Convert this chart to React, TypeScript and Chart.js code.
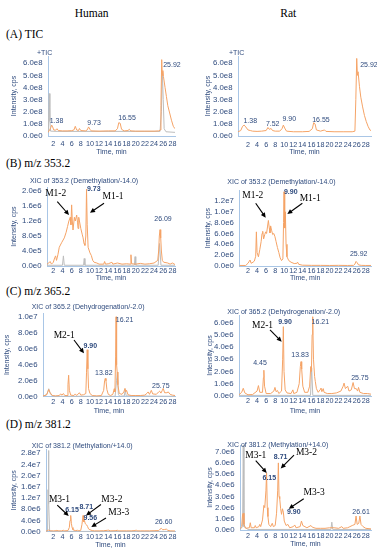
import React, { useEffect, useRef } from 'react';
import { Chart, registerables } from 'chart.js';

Chart.register(...registerables);

type Pt = [number, number];
interface Label { text: string; t: number; v: number; bold?: boolean }
interface Arrow { t1: number; v1: number; t2: number; v2: number }

// ---------------- data ----------------
const xTickValues = [2, 4, 6, 8, 10, 12, 14, 16, 18, 20, 22, 24, 26, 28];

const ticTicks = [0, 1, 2, 3, 4, 5, 6]; // x 1e8
const human353Ticks = [0, 0.4, 0.8, 1.2, 1.6, 2.0]; // x 1e6
const rat353Ticks = [0, 2, 4, 6, 8, 10, 12]; // x 1e6
const human365Ticks = [0, 2, 4, 6, 8, 10]; // x 1e6
const rat365Ticks = [0, 1, 2, 3, 4, 5, 6]; // x 1e6
const human381Ticks = [0, 4, 8, 12, 16, 20, 24, 28]; // x 1e6
const rat381Ticks = [0, 1, 2, 3, 4, 5, 6, 7]; // x 1e6

// (A) TIC, intensity x 1e8
const humanTicOrange: Pt[] = [[0.84,0.3],[1.2,0.5],[1.45,0.7],[1.65,0.9],[1.85,0.75],[2.1,0.5],[2.5,0.48],[2.8,0.6],[3.1,0.45],[4,0.42],[5,0.42],[6,0.44],[6.5,0.5],[6.8,0.8],[7.1,0.5],[7.5,0.45],[7.7,0.62],[8.0,0.45],[9,0.42],[9.4,0.5],[9.7,0.75],[10.0,0.55],[10.3,0.42],[12,0.4],[14,0.42],[15.5,0.42],[16.0,0.6],[16.3,1.1],[16.6,1.05],[16.9,0.55],[17.5,0.42],[18.3,0.45],[18.6,0.55],[18.9,0.42],[20,0.4],[22,0.4],[24,0.4],[25,0.42],[25.35,0.5],[25.5,2.5],[25.67,6.3],[25.8,5.0],[25.92,5.4],[26.05,4.9],[26.4,4.0],[26.7,3.25],[27.0,2.5],[27.4,1.9],[27.8,1.3],[28.2,0.8],[28.57,0.6]];
const humanTicGray: Pt[] = [[0.84,0.3],[0.95,1.5],[1.1,3.5],[1.25,1.2],[1.4,0.4],[3,0.38],[25.3,0.38],[25.6,2.0],[25.8,5.3],[26.0,3.0],[26.2,0.6],[26.6,0.35],[28.57,0.3]];
const ratTicOrange: Pt[] = [[-0.2,0.35],[0.4,0.45],[0.8,0.8],[1.15,0.9],[1.5,0.75],[2.0,0.5],[2.5,0.45],[3,0.4],[4,0.38],[5,0.4],[6,0.45],[6.4,0.7],[6.7,0.55],[7.1,0.62],[7.4,0.45],[8,0.4],[9,0.4],[9.5,0.6],[9.8,0.9],[10.1,0.65],[10.5,0.4],[12,0.35],[14,0.35],[15.5,0.38],[16.2,0.6],[16.5,1.1],[16.8,1.0],[17.1,0.5],[18,0.4],[18.9,0.5],[19.2,0.38],[21,0.35],[23,0.35],[25,0.35],[25.6,0.4],[25.8,3.0],[26.0,6.4],[26.15,5.0],[26.3,5.3],[26.6,4.1],[26.9,3.2],[27.3,2.4],[27.7,1.7],[28.1,1.2],[28.5,0.8],[28.9,0.5],[29.15,0.45]];

// (B) m/z 353.2, intensity x 1e6
const human353Orange: Pt[] = [[0.62,0.05],[1.0,0.08],[1.3,0.12],[1.6,0.05],[2.0,0.1],[2.3,0.22],[2.5,0.27],[2.7,0.15],[3.0,0.3],[3.3,0.5],[3.8,0.62],[4.4,0.75],[4.8,0.9],[5.1,1.05],[5.4,1.2],[5.7,1.3],[5.85,1.1],[6.0,1.63],[6.15,1.2],[6.3,0.96],[6.6,1.3],[6.8,1.2],[7.1,1.36],[7.3,1.15],[7.4,1.0],[7.55,1.3],[7.7,1.2],[8.0,1.0],[8.3,0.85],[8.5,0.75],[8.7,0.6],[8.9,0.55],[9.1,0.8],[9.25,2.05],[9.4,1.1],[9.6,0.5],[10.0,0.35],[10.3,0.28],[10.6,0.15],[10.9,0.1],[11.5,0.08],[12,0.05],[13.0,0.05],[13.2,0.12],[13.4,0.05],[14,0.06],[14.8,0.1],[15,0.05],[16,0.08],[17,0.05],[18,0.06],[18.8,0.05],[18.95,0.3],[19.1,0.06],[20,0.05],[21,0.07],[22,0.05],[23,0.06],[24,0.08],[24.8,0.15],[25.0,0.4],[25.15,0.8],[25.3,0.97],[25.45,0.75],[25.6,0.4],[25.8,0.15],[26.1,0.1],[27,0.08],[27.5,0.05],[28,0.08],[28.57,0.04]];
const human353Gray: Pt[] = [[0.62,0.02],[4.0,0.02],[4.2,0.27],[4.4,0.02],[8.6,0.02],[8.75,0.2],[8.9,0.02],[19.7,0.02],[19.85,0.25],[20.0,0.02],[24.9,0.02],[25.2,0.6],[25.5,0.02],[28.57,0.02]];
const rat353Orange: Pt[] = [[0.08,0.1],[1.5,0.1],[2.0,0.5],[2.3,0.9],[2.45,1.1],[2.7,0.5],[3.1,0.7],[3.4,0.9],[3.7,1.8],[3.85,6.3],[4.0,2.5],[4.3,1.7],[4.6,3.0],[4.9,4.5],[5.1,6.0],[5.25,6.4],[5.45,5.0],[5.7,5.8],[5.9,6.3],[6.1,6.0],[6.3,7.2],[6.5,8.4],[6.7,7.0],[6.85,6.1],[7.0,7.4],[7.2,6.6],[7.45,5.8],[7.7,6.0],[7.95,5.4],[8.2,4.5],[8.5,3.4],[8.8,2.5],[9.1,1.5],[9.4,1.0],[9.7,1.3],[9.85,8.0],[9.95,13.7],[10.05,9.0],[10.15,7.0],[10.25,10.0],[10.4,4.0],[10.6,1.7],[11.0,1.0],[11.5,0.7],[12.2,0.45],[12.8,0.5],[12.95,0.7],[13.2,0.3],[14,0.15],[16,0.12],[18,0.12],[20,0.1],[22,0.12],[24,0.1],[25.3,0.12],[25.6,0.35],[25.85,0.85],[26.1,0.6],[26.4,0.2],[27,0.12],[28,0.1],[29.15,0.1]];

// (C) m/z 365.2, intensity x 1e6
const human365Orange: Pt[] = [[-0.25,0.1],[0.5,0.2],[0.8,0.6],[1.0,0.9],[1.3,0.5],[1.8,0.15],[2.5,0.1],[3.3,0.15],[3.6,0.35],[3.9,0.2],[4.2,0.4],[4.5,0.15],[5.0,0.15],[5.2,1.5],[5.35,2.7],[5.5,0.8],[5.8,0.2],[6.5,0.15],[6.8,0.35],[7.1,0.15],[7.7,0.5],[8.0,0.2],[8.6,0.25],[9.1,0.4],[9.25,3.0],[9.4,5.9],[9.55,3.5],[9.7,1.0],[10,0.4],[10.5,0.15],[11.5,0.1],[12.5,0.15],[13.0,0.8],[13.2,2.0],[13.35,2.3],[13.5,2.0],[13.7,0.9],[14.0,0.3],[14.5,0.15],[15.0,0.3],[15.3,1.0],[15.45,0.6],[15.6,5.0],[15.7,10.05],[15.82,4.0],[15.95,3.1],[16.1,1.5],[16.4,0.4],[17.0,0.3],[17.4,0.6],[17.65,1.05],[17.8,0.6],[18.0,0.8],[18.3,0.25],[19,0.15],[20,0.15],[21,0.15],[22,0.2],[22.5,0.45],[22.7,0.6],[23.0,0.3],[23.4,0.8],[23.7,0.35],[24.5,0.3],[25.0,0.6],[25.2,0.7],[25.5,0.45],[25.8,0.8],[26.0,1.05],[26.3,0.5],[26.8,0.5],[27.1,0.6],[27.5,0.3],[28.0,0.2],[28.57,0.15]];
const human365Gray: Pt[] = [[-0.25,0.05],[0.6,0.3],[1.0,1.0],[1.4,0.3],[2,0.05],[15.5,0.05],[15.8,2.0],[16.0,3.1],[16.2,0.3],[16.5,0.05],[17.5,0.1],[17.7,0.9],[17.9,0.1],[28.57,0.05]];
const rat365Orange: Pt[] = [[0.0,0.1],[0.6,0.3],[0.95,0.63],[1.3,0.25],[2,0.1],[3,0.12],[4.0,0.4],[4.3,0.85],[4.6,0.3],[5.2,0.3],[5.4,1.5],[5.5,2.1],[5.65,0.8],[6,0.2],[7,0.2],[7.7,0.4],[7.95,0.7],[8.2,0.35],[8.5,0.45],[8.8,0.2],[9.4,0.4],[9.65,3.0],[9.8,5.65],[9.95,2.0],[10.2,0.5],[10.6,0.25],[11.5,0.2],[11.9,0.5],[12.1,0.2],[12.8,0.3],[13.3,1.0],[13.55,2.4],[13.7,2.8],[13.85,2.2],[14.1,0.8],[14.5,0.3],[15.2,0.3],[15.6,0.8],[15.85,2.4],[16.0,2.0],[16.15,5.0],[16.28,6.46],[16.45,3.0],[16.7,1.6],[16.85,1.2],[17.1,0.6],[17.5,0.3],[18.0,0.55],[18.1,0.65],[18.3,0.35],[18.6,0.6],[18.8,0.3],[19.5,0.2],[20.5,0.2],[21.5,0.25],[22.5,0.4],[23.0,0.8],[23.2,1.05],[23.5,0.6],[24.0,0.8],[24.3,0.4],[24.8,0.5],[25.2,1.1],[25.5,0.6],[25.9,0.6],[26.2,0.4],[26.4,0.7],[26.7,0.3],[27.5,0.2],[28.4,0.2],[29.15,0.15]];
const rat365Gray: Pt[] = [[0,0.05],[15.8,0.05],[16.05,2.3],[16.3,0.05],[29.15,0.05]];

// (D) m/z 381.2, intensity x 1e6
const human381Orange: Pt[] = [[0.41,0.2],[0.8,0.4],[1.0,0.6],[1.3,0.3],[2,0.3],[2.6,0.35],[2.8,0.6],[3.0,0.3],[3.8,0.3],[4.2,0.5],[4.5,0.3],[5.2,0.4],[5.5,1.5],[5.65,4.0],[5.8,5.8],[5.95,3.0],[6.1,1.5],[6.3,0.7],[6.8,0.4],[7.3,0.5],[7.6,0.3],[8.0,0.5],[8.25,2.5],[8.5,5.8],[8.65,3.5],[8.8,4.0],[9.0,2.8],[9.3,2.4],[9.5,1.8],[9.7,1.0],[10.0,0.7],[10.5,0.4],[11,0.3],[12,0.3],[13,0.35],[13.8,0.5],[14.1,0.55],[14.4,0.3],[15.5,0.35],[16,0.5],[16.3,0.3],[17,0.3],[18,0.3],[19,0.3],[19.9,0.4],[20.1,0.65],[20.3,0.3],[21,0.3],[22,0.3],[23,0.3],[24,0.35],[25,0.4],[25.3,0.9],[25.6,1.2],[25.9,0.7],[26.3,0.8],[26.7,0.9],[27.0,0.5],[27.5,0.3],[28.57,0.25]];
const human381Gray: Pt[] = [[0.41,0.1],[0.75,0.2],[0.85,15],[0.95,29.0],[1.05,10],[1.2,0.3],[2,0.1],[28.57,0.1]];
const rat381Orange: Pt[] = [[0.23,0.1],[0.6,0.3],[0.8,1.4],[0.95,1.5],[1.1,0.5],[1.5,0.15],[2.3,0.2],[2.5,0.65],[2.7,0.2],[3.4,0.2],[3.6,0.4],[3.8,0.2],[4.4,0.3],[4.6,0.5],[4.8,0.3],[5.2,0.9],[5.5,2.2],[5.7,2.0],[5.95,3.5],[6.1,5.1],[6.25,2.0],[6.4,1.2],[6.6,0.5],[7.0,0.3],[7.35,0.6],[7.6,0.3],[8.0,0.4],[8.3,1.5],[8.55,3.5],[8.7,6.0],[8.85,3.0],[9.0,2.8],[9.2,1.9],[9.4,1.4],[9.6,1.9],[9.8,1.6],[10.0,0.8],[10.4,0.4],[10.8,0.5],[11.2,0.2],[12,0.3],[12.3,0.45],[12.6,0.2],[13.5,0.3],[13.8,0.8],[14.1,0.4],[15,0.2],[15.9,0.4],[16.2,0.25],[17,0.15],[18,0.15],[19,0.15],[20,0.2],[21,0.2],[22,0.15],[22.7,0.3],[23,0.15],[24,0.2],[24.5,0.3],[25.0,0.4],[25.6,0.5],[25.85,1.25],[26.1,0.5],[26.45,0.6],[26.7,1.25],[26.95,0.5],[27.4,0.3],[28,0.15],[29.15,0.1]];
const rat381Gray: Pt[] = [[0.23,0.05],[0.8,0.3],[0.95,7.6],[1.1,0.3],[2,0.05],[20.3,0.05],[20.5,0.7],[20.7,0.05],[29.15,0.05]];

// peak labels (retention time text anchored at time / intensity)
const humanTicPeaks: Label[] = [{ text: '1.38', t: 2.7, v: 1.26 }, { text: '9.73', t: 10.9, v: 1.1 }, { text: '16.55', t: 18.1, v: 1.45 }, { text: '25.92', t: 27.9, v: 5.87 }];
const ratTicPeaks: Label[] = [{ text: '1.38', t: 2.5, v: 1.26 }, { text: '7.52', t: 7.45, v: 0.99 }, { text: '9.90', t: 11.1, v: 1.4 }, { text: '16.55', t: 18.1, v: 1.32 }, { text: '25.92', t: 28.7, v: 5.87 }];
const human353Peaks: Label[] = [{ text: '9.73', t: 10.82, v: 2.05, bold: true }, { text: '26.09', t: 25.95, v: 1.245 }];
const rat353Peaks: Label[] = [{ text: '9.90', t: 11.43, v: 13.7, bold: true }, { text: '25.92', t: 26.44, v: 2.16 }];
const human365Peaks: Label[] = [{ text: '9.90', t: 10.08, v: 6.38, bold: true }, { text: '16.21', t: 17.55, v: 9.65 }, { text: '13.82', t: 13.03, v: 3.02 }, { text: '25.75', t: 25.47, v: 1.38 }];
const rat365Peaks: Label[] = [{ text: '4.45', t: 4.65, v: 2.7 }, { text: '9.90', t: 10.17, v: 6.0, bold: true }, { text: '13.83', t: 13.48, v: 3.35 }, { text: '16.21', t: 17.96, v: 6.0 }, { text: '25.75', t: 26.7, v: 1.46 }];
const human381Peaks: Label[] = [{ text: '6.15', t: 6.08, v: 7.75, bold: true }, { text: '8.71', t: 9.2, v: 8.8, bold: true }, { text: '9.56', t: 10.08, v: 4.8, bold: true }, { text: '26.60', t: 26.1, v: 3.4 }];
const rat381Peaks: Label[] = [{ text: '6.15', t: 6.7, v: 4.6, bold: true }, { text: '8.71', t: 9.2, v: 6.55, bold: true }, { text: '9.90', t: 12.1, v: 1.6, bold: true }, { text: '26.61', t: 26.95, v: 1.6 }];

// metabolite labels and arrows
const human353Marks: Label[] = [{ text: 'M1-2', t: 2.52, v: 1.94 }, { text: 'M1-1', t: 15.03, v: 1.85 }];
const human353Arrows: Arrow[] = [{ t1: 2.87, v1: 1.715, t2: 5.43, v2: 1.36 }, { t1: 13.07, v1: 1.672, t2: 10.01, v2: 1.42 }];
const rat353Marks: Label[] = [{ text: 'M1-2', t: 3.06, v: 12.97 }, { text: 'M1-1', t: 15.73, v: 12.49 }];
const rat353Arrows: Arrow[] = [{ t1: 3.7, v1: 11.57, t2: 5.91, v2: 8.91 }, { t1: 14.0, v1: 11.57, t2: 10.68, v2: 9.59 }];
const human365Marks: Label[] = [{ text: 'M2-1', t: 4.38, v: 7.67 }];
const human365Arrows: Arrow[] = [{ t1: 6.52, v1: 7.13, t2: 8.7, v2: 5.46 }];
const rat365Marks: Label[] = [{ text: 'M2-1', t: 5.2, v: 5.78 }];
const rat365Arrows: Arrow[] = [{ t1: 6.86, v1: 5.38, t2: 9.44, v2: 4.43 }];
const human381Marks: Label[] = [{ text: 'M3-1', t: 3.35, v: 11.5 }, { text: 'M3-2', t: 14.8, v: 11.5 }, { text: 'M3-3', t: 16.3, v: 7.0 }];
const human381Arrows: Arrow[] = [{ t1: 2.87, v1: 9.5, t2: 5.36, v2: 5.6 }, { t1: 12.4, v1: 9.7, t2: 9.14, v2: 5.8 }, { t1: 13.5, v1: 4.9, t2: 10.3, v2: 1.7 }];
const rat381Marks: Label[] = [{ text: 'M3-1', t: 3.72, v: 6.7 }, { text: 'M3-2', t: 14.9, v: 6.95 }, { text: 'M3-3', t: 16.6, v: 3.35 }];
const rat381Arrows: Arrow[] = [{ t1: 3.7, v1: 6.2, t2: 6.13, v2: 5.1 }, { t1: 12.15, v1: 6.7, t2: 9.22, v2: 5.5 }, { t1: 14.3, v1: 2.8, t2: 11.0, v2: 1.9 }];

// ---------------- styles ----------------
const NAVY = '#2F4B7E';
const ORANGE = '#F5A366';
const GRAY = '#BDBDBD';
const AXIS = '#A9C6E6';
const SANS = '"Liberation Sans", Arial, sans-serif';
const SERIF = '"Liberation Serif", "Times New Roman", serif';
const TICK_X = 7.2;
const TICK_Y = 7.8;
const TITLE_FONT = 7;
const TIME_FONT = 7;

interface Panel {
  key: string; left: number; top: number; width: number;
  axisX: number; plotRight: number; plotTop: number; plotBottom: number;
  xMin: number; xMax: number; yMax: number; unit: number; yTicks: number[];
  labelY: number; timeY: number; yTitleX: number;
  title: string; titleX: number; titleY: number;
  orange: Pt[]; gray?: Pt[]; peaks: Label[]; marks: Label[]; arrows: Arrow[];
}

const H = 0, R = 190;
const panels: Panel[] = [
  { key: 'HA', left: H, top: 46, width: 190, axisX: 48, plotRight: 175, plotTop: 56, plotBottom: 136, xMin: 0.84, xMax: 28.57, yMax: 6.6, unit: 1e8, yTicks: ticTicks, labelY: 144, timeY: 152.3, yTitleX: 14, title: '+TIC', titleX: 37, titleY: 53.3, orange: humanTicOrange, gray: humanTicGray, peaks: humanTicPeaks, marks: [], arrows: [] },
  { key: 'HB', left: H, top: 174, width: 190, axisX: 47, plotRight: 175, plotTop: 187.25, plotBottom: 266, xMin: 0.62, xMax: 28.57, yMax: 2.1, unit: 1e6, yTicks: human353Ticks, labelY: 271.5, timeY: 278.5, yTitleX: 14, title: 'XIC of 353.2 (Demethylation/-14.0)', titleX: 30, titleY: 181, orange: human353Orange, gray: human353Gray, peaks: human353Peaks, marks: human353Marks, arrows: human353Arrows },
  { key: 'HC', left: H, top: 300, width: 190, axisX: 43, plotRight: 175, plotTop: 313.2, plotBottom: 396.7, xMin: -0.25, xMax: 28.57, yMax: 10.5, unit: 1e6, yTicks: human365Ticks, labelY: 402.5, timeY: 410.7, yTitleX: 7, title: 'XIC of 365.2 (Dehydrogenation/-2.0)', titleX: 31.7, titleY: 307.3, orange: human365Orange, gray: human365Gray, peaks: human365Peaks, marks: human365Marks, arrows: human365Arrows },
  { key: 'HD', left: H, top: 438, width: 190, axisX: 46, plotRight: 175, plotTop: 449.1, plotBottom: 531.7, xMin: 0.41, xMax: 28.57, yMax: 29.5, unit: 1e6, yTicks: human381Ticks, labelY: 537, timeY: 545, yTitleX: 14, title: 'XIC of 381.2 (Methylation/+14.0)', titleX: 31.7, titleY: 445.7, orange: human381Orange, gray: human381Gray, peaks: human381Peaks, marks: human381Marks, arrows: human381Arrows },
  { key: 'RA', left: R, top: 46, width: 187, axisX: 238, plotRight: 371, plotTop: 56, plotBottom: 136, xMin: -0.21, xMax: 29.15, yMax: 6.6, unit: 1e8, yTicks: ticTicks, labelY: 145, timeY: 152.3, yTitleX: 208, title: '+TIC', titleX: 229, titleY: 53.3, orange: ratTicOrange, peaks: ratTicPeaks, marks: [], arrows: [] },
  { key: 'RB', left: R, top: 174, width: 187, axisX: 239.3, plotRight: 371, plotTop: 190.1, plotBottom: 266, xMin: 0.08, xMax: 29.15, yMax: 14, unit: 1e6, yTicks: rat353Ticks, labelY: 271, timeY: 278.3, yTitleX: 208, title: 'XIC of 353.2 (Demethylation/-14.0)', titleX: 227.3, titleY: 181.7, orange: rat353Orange, peaks: rat353Peaks, marks: rat353Marks, arrows: rat353Arrows },
  { key: 'RC', left: R, top: 303, width: 187, axisX: 239, plotRight: 371, plotTop: 315, plotBottom: 396, xMin: 0.01, xMax: 29.15, yMax: 6.6, unit: 1e6, yTicks: rat365Ticks, labelY: 401.5, timeY: 410.7, yTitleX: 210, title: 'XIC of 365.2 (Dehydrogenation/-2.0)', titleX: 227.3, titleY: 311.7, orange: rat365Orange, gray: rat365Gray, peaks: rat365Peaks, marks: rat365Marks, arrows: rat365Arrows },
  { key: 'RD', left: R, top: 437, width: 187, axisX: 240, plotRight: 371, plotTop: 445, plotBottom: 530, xMin: 0.23, xMax: 29.15, yMax: 7.6, unit: 1e6, yTicks: rat381Ticks, labelY: 536, timeY: 544.3, yTitleX: 210, title: 'XIC of 381.2 (Methylation/+14.0)', titleX: 227.3, titleY: 445, orange: rat381Orange, gray: rat381Gray, peaks: rat381Peaks, marks: rat381Marks, arrows: rat381Arrows },
];

const canvasHeight = (p: Panel) => Math.min(550 - p.top, Math.round(p.timeY + TIME_FONT * 0.6 - p.top));

function fmtExp(v: number, unit: number) {
  return (v * unit).toExponential(1).replace('e+', 'e');
}

function annotationPlugin(p: Panel) {
  return {
    id: 'annot' + p.key,
    afterDraw(chart: any) {
      const { ctx } = chart;
      const xs = chart.scales.x;
      const ys = chart.scales.y;
      ctx.save();
      ctx.fillStyle = NAVY;
      ctx.textBaseline = 'middle';
      ctx.textAlign = 'left';
      ctx.font = `${TITLE_FONT}px ${SANS}`;
      ctx.fillText(p.title, p.titleX - p.left, p.titleY - p.top);
      ctx.textAlign = 'center';
      for (const a of p.peaks) {
        ctx.font = `${a.bold ? 'bold ' : ''}7px ${SANS}`;
        ctx.fillText(a.text, xs.getPixelForValue(a.t), ys.getPixelForValue(a.v));
      }
      ctx.fillStyle = '#000';
      ctx.strokeStyle = '#000';
      ctx.font = `9.5px ${SERIF}`;
      for (const m of p.marks) {
        ctx.fillText(m.text, xs.getPixelForValue(m.t), ys.getPixelForValue(m.v));
      }
      ctx.lineWidth = 1.1;
      for (const a of p.arrows) {
        const x1 = xs.getPixelForValue(a.t1), y1 = ys.getPixelForValue(a.v1);
        const x2 = xs.getPixelForValue(a.t2), y2 = ys.getPixelForValue(a.v2);
        const ang = Math.atan2(y2 - y1, x2 - x1);
        const L = 5, W = 2.4;
        const c = Math.cos(ang), s = Math.sin(ang);
        ctx.beginPath();
        ctx.moveTo(x1, y1);
        ctx.lineTo(x2 - L * 0.8 * c, y2 - L * 0.8 * s);
        ctx.stroke();
        ctx.beginPath();
        ctx.moveTo(x2, y2);
        ctx.lineTo(x2 - L * c + W * s, y2 - L * s - W * c);
        ctx.lineTo(x2 - L * c - W * s, y2 - L * s + W * c);
        ctx.closePath();
        ctx.fill();
      }
      ctx.restore();
    },
  };
}

function buildConfig(p: Panel): any {
  const ch = canvasHeight(p);
  const canvasBottom = p.top + ch;
  const xAxisH = canvasBottom - p.plotBottom;
  const yAxisW = p.axisX - p.left;
  const xPad = p.labelY - p.plotBottom - TICK_X * 0.6;
  const yTitlePad = p.yTitleX - p.left - TITLE_FONT * 0.6;
  const timePad = Math.max(0, canvasBottom - p.timeY - TIME_FONT * 0.6);
  const datasets: any[] = [
    { data: p.orange.map(([x, y]) => ({ x, y })), borderColor: ORANGE, borderWidth: 1, pointRadius: 0, tension: 0 },
  ];
  if (p.gray) {
    datasets.push({ data: p.gray.map(([x, y]) => ({ x, y })), borderColor: GRAY, borderWidth: 1, pointRadius: 0, tension: 0 });
  }
  return {
    type: 'line',
    data: { datasets },
    options: {
      responsive: false,
      animation: false,
      events: [],
      layout: { padding: { left: 0, top: p.plotTop - p.top, right: p.left + p.width - p.plotRight, bottom: 0 } },
      plugins: { legend: { display: false }, tooltip: { enabled: false }, title: { display: false } },
      scales: {
        x: {
          type: 'linear', min: p.xMin, max: p.xMax,
          grid: { display: false, drawTicks: false, tickLength: 0 },
          border: { display: true, color: AXIS, width: 1 },
          ticks: { autoSkip: false, maxRotation: 0, minRotation: 0, padding: xPad, color: NAVY, font: { family: SANS, size: TICK_X }, callback: (v: number) => String(v) },
          afterBuildTicks: (s: any) => { s.ticks = xTickValues.map((value) => ({ value })); },
          afterFit: (s: any) => { s.height = xAxisH; s.paddingLeft = 0; s.paddingRight = 0; s.paddingTop = 0; s.paddingBottom = 0; },
          title: { display: true, text: 'Time, min', color: NAVY, font: { family: SANS, size: TIME_FONT, lineHeight: 1.2 }, padding: { top: 0, bottom: timePad } },
        },
        y: {
          type: 'linear', min: 0, max: p.yMax,
          grid: { display: false, drawTicks: false, tickLength: 0 },
          border: { display: true, color: AXIS, width: 1 },
          ticks: { autoSkip: false, padding: 5.5, color: NAVY, font: { family: SANS, size: TICK_Y }, callback: (v: number) => fmtExp(v, p.unit) },
          afterBuildTicks: (s: any) => { s.ticks = p.yTicks.map((value) => ({ value })); },
          afterFit: (s: any) => { s.width = yAxisW; s.paddingLeft = 0; s.paddingRight = 0; s.paddingTop = 0; s.paddingBottom = 0; },
          title: { display: true, text: 'Intensity, cps', color: NAVY, font: { family: SANS, size: TITLE_FONT, lineHeight: 1.2 }, padding: { top: yTitlePad, bottom: 0 } },
        },
      },
    },
    plugins: [annotationPlugin(p)],
  };
}

const headers = [
  { text: 'Human', x: 91.7, y: 14, center: true },
  { text: 'Rat', x: 288.3, y: 14, center: true },
  { text: '(A) TIC', x: 6, y: 35, center: false },
  { text: '(B) m/z 353.2', x: 6, y: 163.3, center: false },
  { text: '(C) m/z 365.2', x: 6, y: 291.7, center: false },
  { text: '(D) m/z 381.2', x: 6, y: 425, center: false },
];

export default function App() {
  const refs = useRef<(HTMLCanvasElement | null)[]>([]);
  useEffect(() => {
    const charts = panels.map((p, i) => new Chart(refs.current[i] as HTMLCanvasElement, buildConfig(p)));
    return () => charts.forEach((c) => c.destroy());
  }, []);
  return (
    <div style={{ position: 'absolute', left: 0, top: 0, width: 377, height: 550, overflow: 'hidden', background: '#fff' }}>
      {headers.map((h) => (
        <div
          key={h.text}
          style={{
            position: 'absolute',
            left: h.center ? h.x - 50 : h.x,
            width: h.center ? 100 : 120,
            top: h.y - 6.6,
            textAlign: h.center ? 'center' : 'left',
            fontFamily: SERIF,
            fontSize: 11.5,
            lineHeight: '13px',
            color: '#000',
            whiteSpace: 'nowrap',
          }}
        >
          {h.text}
        </div>
      ))}
      {panels.map((p, i) => {
        const ch = canvasHeight(p);
        return (
          <canvas
            key={p.key}
            ref={(el) => { refs.current[i] = el; }}
            width={p.width}
            height={ch}
            style={{ position: 'absolute', left: p.left, top: p.top, width: p.width, height: ch }}
          />
        );
      })}
    </div>
  );
}
